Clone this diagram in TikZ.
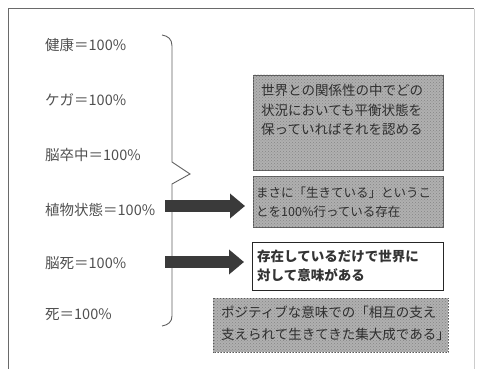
\documentclass[tikz,border=0pt]{standalone}
\usepackage{fontspec}
\newfontfamily\jp{Noto Sans CJK JP}
\usetikzlibrary{arrows.meta,patterns}
\definecolor{framec}{HTML}{6A6A6A}
\definecolor{labc}{HTML}{505050}
\definecolor{boxfill}{HTML}{B0B0B0}
\definecolor{dotc}{HTML}{858585}
\definecolor{boxline}{HTML}{5A5A5A}
\definecolor{arrc}{HTML}{3A3A3A}
\definecolor{txtc}{HTML}{2E2E2E}
\tikzset{
  lab/.style={anchor=west, inner sep=0pt, text=labc, font=\jp\fontsize{14.5}{17}\selectfont},
  gbox/.style={draw=boxline, line width=0.8pt, fill=boxfill, anchor=north west, inner sep=0pt},
  texture/.style={pattern=crosshatch dots, pattern color=dotc},
  wbox/.style={draw=black!85, line width=1.3pt, fill=white, anchor=north west, inner sep=0pt},
  btext/.style={anchor=north west, inner sep=0pt, align=left, text=txtc, font=\jp\fontsize{13.5}{19.5}\selectfont},
  bigarrow/.style={draw=arrc, line width=12pt, shorten >=8pt, -{Triangle[width=24pt,length=15pt]}},
  bracec/.style={draw=gray!75!black, line width=0.9pt}
}
\begin{document}
\begin{tikzpicture}[x=1pt,y=-1pt]
\useasboundingbox (0,0) rectangle (477,369);
% frame
\draw[framec, line width=1pt] (8,369) -- (8,9) -- (474,9);
\draw[gray!40, line width=0.6pt] (474,9) -- (474,369);
% left labels
\node[lab] (l1) at (45,45) {健康＝100\%};
\node[lab] (l2) at (45,100) {ケガ＝100\%};
\node[lab] (l3) at (45,155) {脳卒中＝100\%};
\node[lab] (l4) at (45,210) {植物状態＝100\%};
\node[lab] (l5) at (45,263) {脳死＝100\%};
\node[lab] (l6) at (45,315) {死＝100\%};
% brace
\draw[bracec] (162,35) .. controls (168,36) and (172,39) .. (172,46)
  -- (172,162) -- (190,174) -- (172,184) -- (172,316)
  .. controls (172,322) and (168,325) .. (162,326);
% boxes
\node[gbox, minimum width=190pt, minimum height=95pt] (b1) at (253,75) {};
\fill[texture] (b1.north west) rectangle (b1.south east);
\node[btext] (t1) at ([xshift=8pt,yshift=-9pt]b1.north west) {世界との関係性の中でどの\\状況においても平衡状態を\\保っていればそれを認める};
\node[gbox, minimum width=190pt, minimum height=51pt] (b2) at (253,176) {};
\fill[texture] (b2.north west) rectangle (b2.south east);
\node[btext, font=\jp\fontsize{12.5}{19}\selectfont] (t2) at ([xshift=3pt,yshift=-11pt]b2.north west) {まさに「生きている」というこ\\とを100\%行っている存在};
\node[wbox, minimum width=191pt, minimum height=48pt] (b3) at (252,242) {};
\node[btext, text=black!80, font=\jp\bfseries\fontsize{13.5}{18.5}\selectfont] (t3) at ([xshift=5pt,yshift=-8pt]b3.north west) {存在しているだけで世界に\\対して意味がある};
\node[gbox, draw=none, minimum width=235pt, minimum height=54pt] (b4) at (213,298) {};
\fill[texture] (b4.north west) rectangle (b4.south east);
\draw[boxline, line width=1pt, dotted] (b4.north west) rectangle (b4.south east);
\node[btext, font=\jp\fontsize{13.5}{22}\selectfont] (t4) at ([xshift=8pt,yshift=-8pt]b4.north west) {ポジティブな意味での「相互の支え\\支えられて生きてきた集大成である」};
% arrows
\coordinate (a1s) at (165,206);
\coordinate (a2s) at (165,262);
\draw[bigarrow] (a1s) -- (a1s -| b2.west);
\draw[bigarrow] (a2s) -- (a2s -| b3.west);
\end{tikzpicture}
\end{document}
